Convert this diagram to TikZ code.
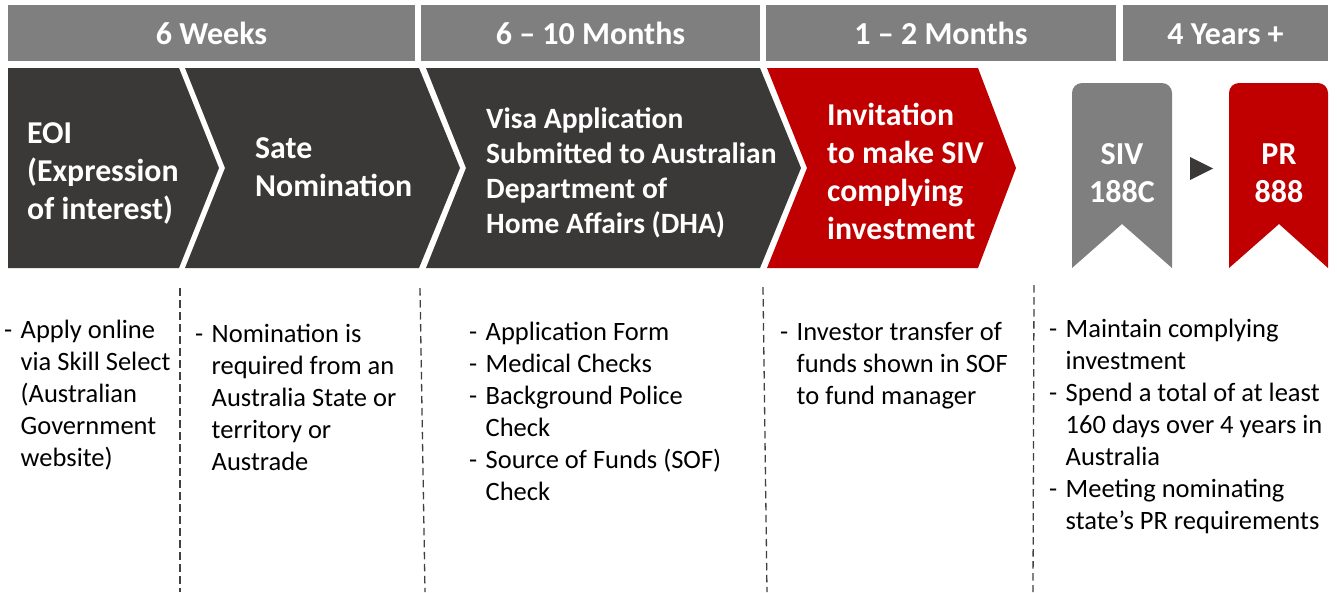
\documentclass[tikz,border=0pt]{standalone}
\usepackage{fontspec}
\setmainfont{Carlito}
\definecolor{bargray}{HTML}{7F7F7F}
\definecolor{darkbox}{HTML}{3B3838}
\definecolor{redbox}{HTML}{C00000}
\definecolor{dashgray}{HTML}{404040}
\newcommand{\bl}{\makebox[16.5pt][l]{-}}
\newcommand{\ind}{\hspace*{16.5pt}}
\newcommand{\tl}[1]{\begin{tabular}[t]{@{}l@{}}#1\end{tabular}}
\newcommand{\tc}[1]{\begin{tabular}[t]{@{}c@{}}#1\end{tabular}}
\tikzset{
  hdr/.style={font=\fontsize{32}{36}\selectfont\bfseries, text=white, inner sep=0pt, anchor=base},
  chev/.style={font=\fontsize{31.8}{38}\selectfont\bfseries, text=white, inner sep=0pt, anchor=base west},
  chevsmall/.style={font=\fontsize{29.5}{35}\selectfont\bfseries, text=white, inner sep=0pt, anchor=base west},
  ribtext/.style={font=\fontsize{32}{38.5}\selectfont\bfseries, text=white, inner sep=0pt, anchor=base},
  body/.style={font=\fontsize{26.5}{32}\selectfont, text=black, inner sep=0pt, anchor=base west},
  sep/.style={draw=dashgray, line width=1.3pt, dash pattern=on 7.5pt off 4.5pt}
}
\begin{document}
\begin{tikzpicture}[x=1pt,y=-1pt]
\useasboundingbox (0,0) rectangle (1337,592);
% header bars
\fill[bargray] (8,5) rectangle (415,61);
\fill[bargray] (421,5) rectangle (760,61);
\fill[bargray] (766,5) rectangle (1116,61);
\fill[bargray] (1123,5) rectangle (1328,61);
\node[hdr] (h1) at (211.5,44) {6 Weeks};
\node[hdr] (h2) at (590.5,44) {6 -- 10 Months};
\node[hdr] (h3) at (941,44) {1 -- 2 Months};
\node[hdr] (h4) at (1225.5,44) {4 Years +};
% chevrons
\fill[darkbox] (8,68) -- (179,68) -- (219,168) -- (179,268) -- (8,268) -- cycle;
\fill[darkbox] (185,68) -- (419,68) -- (460,168) -- (419,268) -- (185,268) -- (225,168) -- cycle;
\fill[darkbox] (426,68) -- (760,68) -- (801,168) -- (760,268) -- (426,268) -- (466,168) -- cycle;
\fill[redbox] (767,68) -- (978,68) -- (1016,168) -- (978,268) -- (767,268) -- (807,168) -- cycle;
\node[chev] (c1) at (27,143) {\tl{EOI\\(Expression\\of interest)}};
\node[chev] (c2) at (255,158) {\tl{Sate\\Nomination}};
\node[chevsmall] (c3) at (486,128) {\tl{Visa Application\\Submitted to Australian\\Department of\\Home Affairs (DHA)}};
\node[chev] (c4) at (827,125) {\tl{Invitation\\to make SIV\\complying\\investment}};
% ribbons
\fill[bargray] (1122,224) -- (1072,268) [rounded corners=10pt] -- (1072,83) -- (1172,83) [sharp corners] -- (1172,268) -- cycle;
\fill[redbox] (1279,224) -- (1229,268) [rounded corners=10pt] -- (1229,83) -- (1328,83) [sharp corners] -- (1328,268) -- cycle;
\node[ribtext] (r1) at (1122,164) {\tc{SIV\\188C}};
\node[ribtext] (r2) at (1279,164) {\tc{PR\\888}};
\fill[darkbox] (1190,157) -- (1213,168.5) -- (1190,180) -- cycle;
% dashed separators
\coordinate (d1a) at (180,288); \coordinate (d1b) at (180,592);
\coordinate (d2a) at (420,288); \coordinate (d2b) at (425,592);
\coordinate (d3a) at (763,287); \coordinate (d3b) at (767,592);
\coordinate (d4a) at (1034,285); \coordinate (d4b) at (1033,592);
\draw[sep] (d1a) -- (d1b);
\draw[sep] (d2a) -- (d2b);
\draw[sep] (d3a) -- (d3b);
\draw[sep] (d4a) -- (d4b);
% body texts
\node[body] (t1) at (4,338) {\tl{\bl Apply online\\\ind via Skill Select\\\ind (Australian\\\ind Government\\\ind website)}};
\node[body] (t2) at (195,342) {\tl{\bl Nomination is\\\ind required from an\\\ind Australia State or\\\ind territory or\\\ind Austrade}};
\node[body] (t3) at (469,340) {\tl{\bl Application Form\\\bl Medical Checks\\\bl Background Police\\\ind Check\\\bl Source of Funds (SOF)\\\ind Check}};
\node[body] (t4) at (780,340) {\tl{\bl Investor transfer of\\\ind funds shown in SOF\\\ind to fund manager}};
\node[body] (t5) at (1049,337) {\tl{\bl Maintain complying\\\ind investment\\\bl Spend a total of at least\\\ind 160 days over 4 years in\\\ind Australia\\\bl Meeting nominating\\\ind state’s PR requirements}};
\end{tikzpicture}
\end{document}
